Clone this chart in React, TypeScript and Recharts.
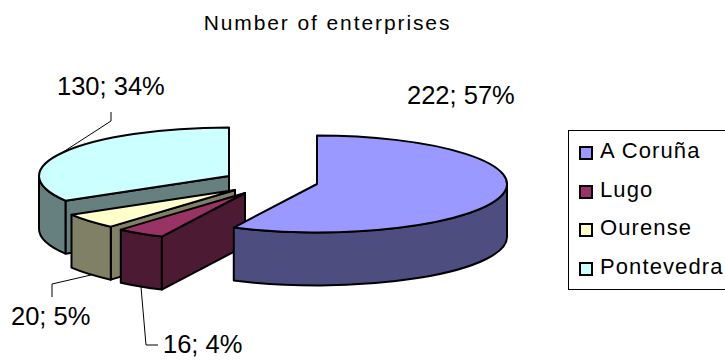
import { Legend, Pie, PieChart } from "recharts";

const FONT = '"Liberation Sans", Arial, sans-serif';

const provinces = ["A Coruña", "Lugo", "Ourense", "Pontevedra"];
const enterprises = [222, 16, 20, 130];
const topColors = ["#9999ff", "#993366", "#ffffcc", "#ccffff"];
const wallColors = ["#4d4d80", "#4d1a33", "#808066", "#668080"];

// how far each slice is pulled away from the pie centre, in px
const explode = [
  { dx: 52, dy: 2 },
  { dx: -20, dy: 11 },
  { dx: -30, dy: 8 },
  { dx: -36, dy: -6 }
];

// label anchors and their leader lines
const labelSpots = [
  { x: 407, y: 104, leader: "" },
  { x: 163, y: 353, leader: "141,287 146,345 158,345" },
  { x: 11, y: 325, leader: "91,275 52,284 52,297" },
  { x: 57, y: 95, leader: "111,112 111,121 60,154" }
];

// later entries paint over earlier ones, so the table runs back to front
const rows = provinces
  .map((name, i) => ({
    name,
    value: enterprises[i],
    fill: topColors[i],
    wall: wallColors[i],
    slot: i
  }))
  .reverse();

const TILT = 0.255;
const DEPTH = 53;

function SliceShape(props: any) {
  const { cx, cy, outerRadius, startAngle, endAngle, payload } = props;
  const { fill, wall, slot } = payload;
  const px = cx + explode[slot].dx;
  const py = cy + explode[slot].dy;
  const rx = outerRadius;
  const ry = outerRadius * TILT;

  // clockwise degrees from twelve o'clock, rounded so 360 folds back to 0
  const from = Math.round((((90 - endAngle) % 360) + 360) * 1000) / 1000 % 360;
  const to = from + Math.abs(endAngle - startAngle);
  const at = (deg: number, drop = 0): [number, number] => {
    const rad = (deg * Math.PI) / 180;
    return [px + rx * Math.sin(rad), py - ry * Math.cos(rad) + drop];
  };
  const arc = (a: number, b: number, drop = 0, sweep = 1) => {
    const [x, y] = at(b, drop);
    return `A${rx} ${ry} 0 ${Math.abs(b - a) > 180 ? 1 : 0} ${sweep} ${x} ${y}`;
  };

  const faces = [];
  // flat cut faces only show when they look toward the viewer
  if (from > 180 && from < 360) {
    const [x, y] = at(from);
    faces.push(`M${px} ${py}L${x} ${y}L${x} ${y + DEPTH}L${px} ${py + DEPTH}Z`);
  }
  // the rim is visible along the front half of the ellipse
  const rimFrom = Math.max(from, 90);
  const rimTo = Math.min(to, 270);
  if (rimTo > rimFrom) {
    const [x1, y1] = at(rimFrom);
    const [x2, y2] = at(rimTo);
    faces.push(
      `M${x1} ${y1}${arc(rimFrom, rimTo)}L${x2} ${y2 + DEPTH}${arc(rimTo, rimFrom, DEPTH, 0)}L${x1} ${y1}Z`
    );
  }
  const [sx, sy] = at(from);
  const top = `M${px} ${py}L${sx} ${sy}${arc(from, to)}Z`;

  return (
    <g stroke="#000" strokeWidth={2} strokeLinejoin="round">
      {faces.map((d) => (
        <path key={d} d={d} fill={wall} />
      ))}
      <path d={top} fill={fill} />
    </g>
  );
}

function SliceLabel(props: any) {
  const { payload, percent, value } = props;
  const spot = labelSpots[payload.slot];
  return (
    <g>
      {spot.leader && <polyline points={spot.leader} fill="none" stroke="#000" strokeWidth={1} />}
      <text x={spot.x} y={spot.y} fontFamily={FONT} fontSize={25.5} fill="#000">
        {`${value}; ${Math.round(percent * 100)}%`}
      </text>
    </g>
  );
}

function LegendBox() {
  return (
    <div
      style={{
        boxSizing: "border-box",
        width: 170,
        height: 160,
        border: "1px solid #000",
        background: "#fff",
        paddingTop: 1,
        fontFamily: FONT,
        fontSize: 22,
        color: "#000"
      }}
    >
      {provinces.map((name, i) => (
        <div key={name} style={{ display: "flex", alignItems: "center", height: 38.5, paddingLeft: 10 }}>
          <span
            style={{
              boxSizing: "border-box",
              width: 14,
              height: 14,
              marginRight: 7,
              marginTop: 4,
              border: "2px solid #000",
              background: topColors[i]
            }}
          />
          <span style={{ letterSpacing: 1.1 }}>{name}</span>
        </div>
      ))}
    </div>
  );
}

export default function App() {
  return (
    <div style={{ position: "absolute", left: 0, top: 0, width: 725, height: 363, overflow: "hidden", background: "#fff" }}>
      <div
        style={{
          position: "absolute",
          left: 0,
          top: 11,
          width: 655,
          textAlign: "center",
          fontFamily: FONT,
          fontSize: 21,
          letterSpacing: 1.9,
          color: "#000"
        }}
      >
        Number of enterprises
      </div>
      <PieChart width={725} height={363} margin={{ top: 0, right: 0, bottom: 0, left: 0 }}>
        <Pie
          data={rows}
          dataKey="value"
          nameKey="name"
          cx={265}
          cy={182}
          outerRadius={190}
          startAngle={90}
          endAngle={450}
          stroke="none"
          isAnimationActive={false}
          shape={SliceShape}
          label={SliceLabel}
          labelLine={false}
        />
        <Legend
          content={LegendBox}
          wrapperStyle={{ position: "absolute", left: 568, top: 130, width: 170 }}
        />
      </PieChart>
    </div>
  );
}
